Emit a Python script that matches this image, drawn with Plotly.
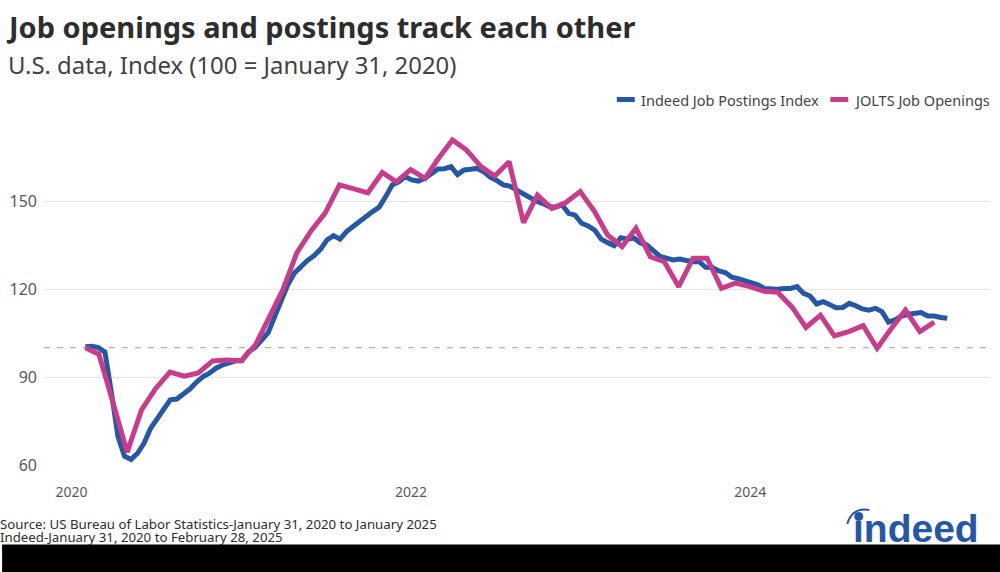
import pandas as pd
import plotly.graph_objects as go

indeed_dates = pd.date_range("2020-01-31", "2025-02-28", periods=133)
indeed_values = [
    100.3, 100.5, 100, 98.5, 84.5, 69.7, 63, 61.9, 64, 67.5,
    72.5, 75.9, 78.8, 82.2, 82.5, 84.1, 85.9, 88.2, 90.1, 91.3,
    93, 94.1, 95, 95.5, 95.6, 98.6, 100.1, 102.6, 105.1, 110.6,
    115.7, 121.4, 125.4, 127.7, 129.7, 131.3, 133.5, 136.7, 138.2, 137,
    139.6, 141.3, 142.8, 144.7, 146.4, 147.9, 151.5, 155.5, 156.5, 158.3,
    157.2, 156.8, 157.7, 159.4, 160.9, 161, 161.7, 159, 160.6, 160.8,
    161.1, 160, 158.1, 157, 155.5, 155.1, 153.8, 152.6, 151.2, 150,
    149.2, 148.1, 147.9, 148.7, 145.8, 145.2, 142.4, 141.5, 140.1, 137,
    135.8, 134.8, 137.5, 137, 137.4, 135.7, 135, 133.1, 131.1, 130.5,
    129.9, 130.2, 129.7, 129.3, 129.3, 127.4, 127.3, 126.2, 125.6, 124,
    123.5, 122.8, 122.1, 121.4, 120.2, 119.9, 119.9, 120.2, 120.2, 120.8,
    118.5, 117.6, 114.9, 115.7, 114.5, 113.6, 113.7, 115.1, 114.3, 113.2,
    112.8, 113.4, 112.3, 108.7, 109.5, 110.8, 111.4, 111.7, 112, 110.8,
    110.8, 110.3, 110,
]

# JOLTS, monthly
jolts_dates = pd.date_range("2020-01-31", periods=61, freq="ME")
jolts_values = [
    100, 97.8, 81, 64.4, 78.8, 86, 91.7, 90.3, 91.4, 95.5,
    95.8, 95.5, 100.9, 110, 119.7, 132.3, 139.9, 145.9, 155.5, 154.1,
    152.8, 159.7, 156.5, 160.7, 157.7, 164.3, 170.8, 167.4, 161.8, 158.5,
    163.4, 142.6, 152, 147.4, 149.5, 153.2, 146.4, 138.4, 134.4, 140.7,
    131, 129.3, 120.8, 130.5, 130.5, 120.2, 122, 120.8, 119.2, 118.9,
    113.8, 106.9, 111.1, 104, 105.5, 107.5, 99.8, 106.6, 112.8, 105.5,
    108.7,
]

x_ticks = ["2020-01-01", "2022-01-01", "2024-01-01"]
x_labels = ["2020", "2022", "2024"]
y_ticks = [60, 90, 120, 150]

BLUE = "#2557a7"
PINK = "#c93c8a"
FONT = "Noto Sans"
W, H = 1000, 572
TOP, BOTTOM, LEFT, RIGHT = 113, 465, 42, 990


# paper coordinates from page pixels
def px(x):
    return (x - LEFT) / (RIGHT - LEFT)


def py(y):
    return (BOTTOM - y) / (BOTTOM - TOP)


def label(text, x, y, size, color, family=FONT):
    # annotations sit a few pixels inside their anchor
    fig.add_annotation(
        text=text, x=px(x - 4), y=py(y), xref="paper", yref="paper",
        xanchor="left", yanchor="middle", align="left", showarrow=False,
        font=dict(size=size, color=color, family=family),
    )


fig = go.Figure()
fig.add_trace(go.Scatter(x=indeed_dates, y=indeed_values, name="Indeed Job Postings Index",
                         mode="lines", line=dict(color=BLUE, width=5)))
fig.add_trace(go.Scatter(x=jolts_dates, y=jolts_values, name="JOLTS Job Openings",
                         mode="lines", line=dict(color=PINK, width=5)))

fig.update_layout(
    width=W, height=H, showlegend=False,
    margin=dict(l=LEFT, r=W - RIGHT, t=TOP, b=H - BOTTOM, pad=0),
    paper_bgcolor="white", plot_bgcolor="white",
    font=dict(family=FONT, color="#595959", size=14),
)
fig.update_xaxes(range=["2019-11-03", "2025-05-31"], tickvals=x_ticks, ticktext=x_labels,
                 showgrid=False, zeroline=False, showline=False, ticklabelstandoff=17,
                 tickfont=dict(size=14, color="#595959"))
fig.update_yaxes(range=[60, 180], tickvals=y_ticks, gridcolor="#e4e4e4", gridwidth=1,
                 zeroline=False, showline=False, ticklabelstandoff=6,
                 tickfont=dict(size=16, color="#595959"))

# reference line at 100
fig.add_hline(y=100, line=dict(color="#b4b4b4", width=1.2, dash="6px,7px"), layer="below")

label("<b>Job openings and postings track each other</b>", 6, 26, 29, "#2d2d2d")
label("U.S. data, Index (100 = January 31, 2020)", 8, 65, 23.9, "#424242")

# legend
for x0, x1, color in [(616, 634, BLUE), (830, 848, PINK)]:
    fig.add_shape(type="line", xref="paper", yref="paper", x0=px(x0), x1=px(x1),
                  y0=py(99.5), y1=py(99.5), line=dict(color=color, width=5))
label("Indeed Job Postings Index", 642, 99.5, 14.5, "#424242")
label("JOLTS Job Openings", 856, 99.5, 14.5, "#424242")

label("Source: US Bureau of Labor Statistics-January 31, 2020 to January 2025", 0, 524, 13.25, "#2d2d2d")
label("Indeed-January 31, 2020 to February 28, 2025", 0, 537, 13.25, "#2d2d2d")

# logo
label("<b>indeed</b>", 855, 528, 39, BLUE, family="Liberation Sans")
fig.add_shape(type="path", xref="paper", yref="paper",
              path=f"M {px(847)} {py(524)} Q {px(852)} {py(507)} {px(869)} {py(510)}",
              line=dict(color=BLUE, width=2))
fig.add_shape(type="circle", xref="paper", yref="paper", x0=px(854), x1=px(863),
              y0=py(521), y1=py(512), fillcolor=BLUE, line_width=0)

# black band along the bottom of the picture
fig.add_shape(type="rect", xref="paper", yref="paper", x0=px(0), x1=px(W),
              y0=py(544.5), y1=py(H), fillcolor="black", line_width=0)

fig.write_html("out.html", config=dict(displayModeBar=False),
               post_script="document.body.style.margin='0';")
